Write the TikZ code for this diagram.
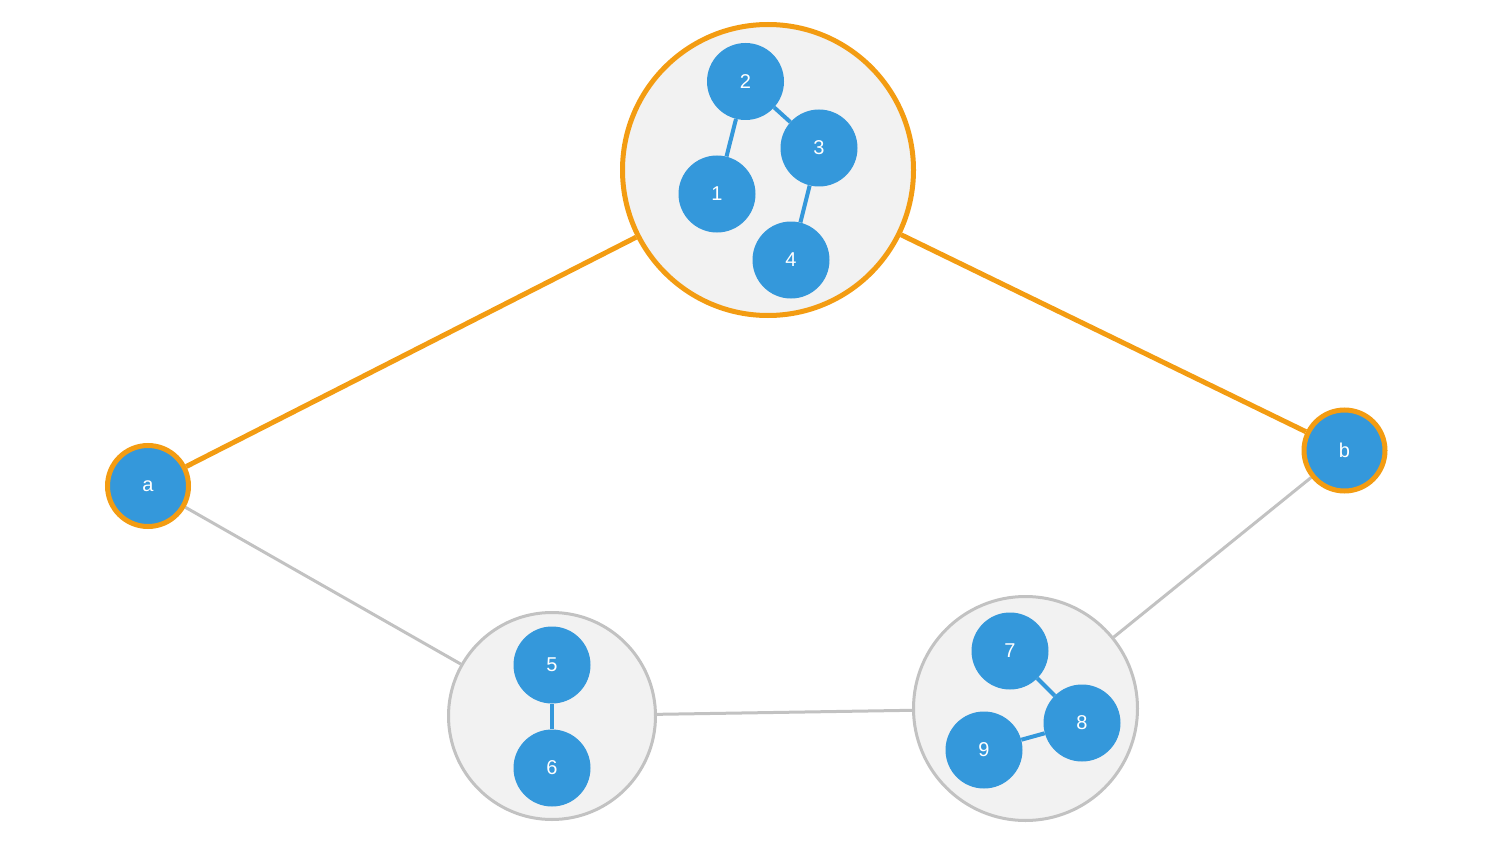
\documentclass[tikz,border=0pt]{standalone}
\usepackage{fontspec}
\setmainfont{Liberation Sans}
\usetikzlibrary{backgrounds}

\definecolor{vblue}{HTML}{3498DB}
\definecolor{vorange}{HTML}{F39C12}
\definecolor{vgray}{HTML}{C2C2C2}
\definecolor{vfill}{HTML}{F2F2F2}

\tikzset{
  vertex/.style={circle,fill=vblue,inner sep=0pt,minimum size=77pt,text=white,font=\fontsize{20}{24}\selectfont},
  hubvertex/.style={vertex,draw=vorange,line width=5pt,minimum size=81pt},
  cluster/.style={circle,fill=vfill,draw=vgray,line width=3pt,inner sep=0pt},
  hotcluster/.style={cluster,draw=vorange,line width=5pt},
  inlink/.style={draw=vblue,line width=4pt},
  outlink/.style={draw=vgray,line width=3pt},
  hotlink/.style={draw=vorange,line width=5pt}
}

\begin{document}
\begin{tikzpicture}[x=1pt,y=1pt,yscale=-1,xscale=1]
\useasboundingbox (0,0) rectangle (1500,848);

% Clusters
\node [hotcluster,minimum size=291pt] (top) at (768,170) {};
\node [cluster,minimum size=207pt] (left) at (552,716) {};
\node [cluster,minimum size=224pt] (right) at (1025.5,708.5) {};

% Outer vertices
\node [hubvertex] (a) at (148,486) {a};
\node [hubvertex] (b) at (1344.5,450.5) {b};

% Vertices in top cluster
\node [vertex] (n2) at (745.5,81.5) {2};
\node [vertex] (n3) at (819,148) {3};
\node [vertex] (n1) at (717,194) {1};
\node [vertex] (n4) at (791,260) {4};
% Vertices in left cluster
\node [vertex] (n5) at (552,665) {5};
\node [vertex] (n6) at (552,768) {6};
% Vertices in right cluster
\node [vertex] (n7) at (1010,651) {7};
\node [vertex] (n8) at (1082,723) {8};
\node [vertex] (n9) at (984,750) {9};

% Inner links
\draw [inlink] (n2) -- (n1);
\draw [inlink] (n2) -- (n3);
\draw [inlink] (n3) -- (n4);
\draw [inlink] (n5) -- (n6);
\draw [inlink] (n7) -- (n8);
\draw [inlink] (n8) -- (n9);

% Outer links
\begin{scope}[on background layer]
\draw [hotlink] (a) -- (top);
\draw [hotlink] (top) -- (b);
\draw [outlink] (a) -- (left);
\draw [outlink] (left) -- (right);
\draw [outlink] (right) -- (b);
\end{scope}

\end{tikzpicture}
\end{document}
